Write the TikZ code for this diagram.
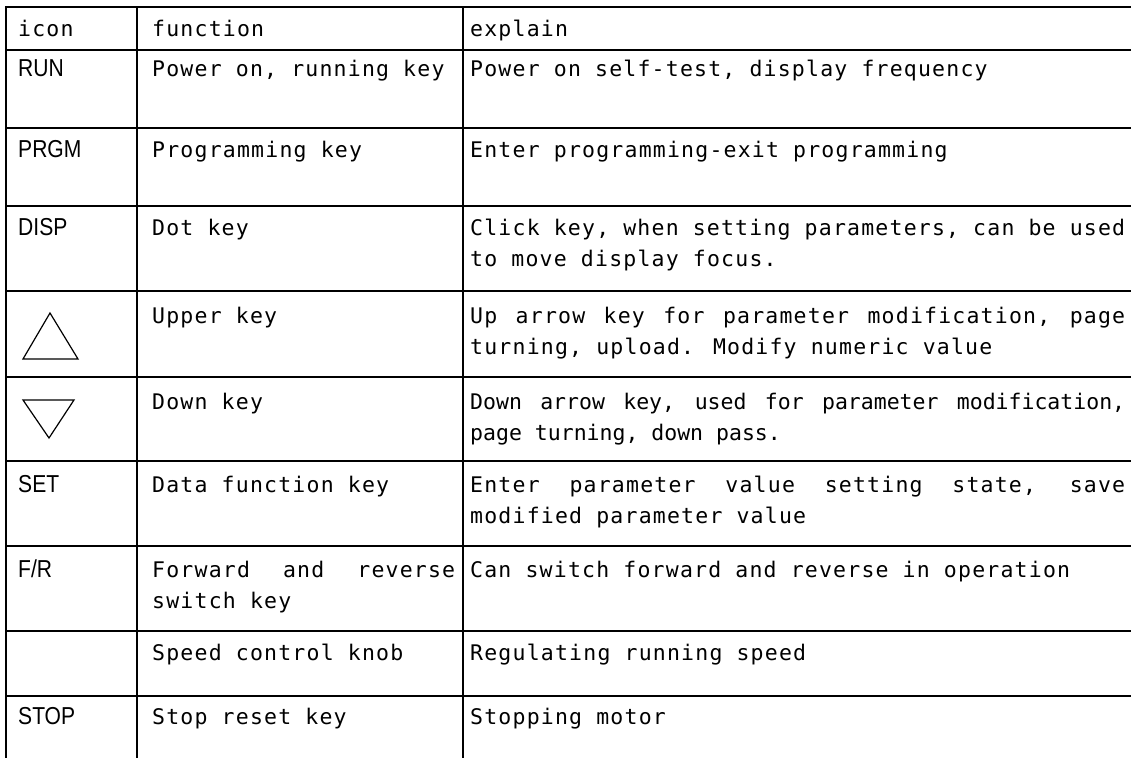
\documentclass[tikz,border=0pt]{standalone}
\usepackage{fontspec}
\newfontfamily\monof[LetterSpace=5.6]{DejaVu Sans Mono}
\newfontfamily\monotight{DejaVu Sans Mono}
\newfontfamily\iconfnt[FakeStretch=0.86]{Liberation Sans}
\newcommand\jline[2]{\makebox[#1pt][s]{#2}}
\begin{document}
\begin{tikzpicture}[x=1pt,y=-1pt,
  grid/.style={line width=1.8pt, line cap=rect},
  txt/.style={anchor=base west, inner sep=0pt, font=\fontsize{21.5}{26}\selectfont\monof},
  ico/.style={anchor=base west, inner sep=0pt, font=\iconfnt\fontsize{24.5}{30}\selectfont},
  tri/.style={line width=1.2pt, line join=miter}]
\useasboundingbox (0,0) rectangle (1131,757);
\begin{scope}
\clip (0,0) rectangle (1131,757);
% vertical lines
\draw[grid] (6,7) -- (6,760);
\draw[grid] (137,7) -- (137,760);
\draw[grid] (463,7) -- (463,760);
% horizontal lines
\foreach \y in {7,50,128,206,291,377,461,546,631,696}
  \draw[grid] (6,\y) -- (1135,\y);
\end{scope}
% header
\node[txt] (h1) at (18,37) {icon};
\node[txt] (h2) at (152,37) {function};
\node[txt] (h3) at (470,37) {explain};
% RUN
\node[ico] (i1) at (18,77) {RUN};
\node[txt] (f1) at (152,77) {Power on, running key};
\node[txt] (e1) at (470,77) {Power on self-test, display frequency};
% PRGM
\node[ico] (i2) at (18,157) {PRGM};
\node[txt] (f2) at (152,157) {Programming key};
\node[txt] (e2) at (470,157) {Enter programming-exit programming};
% DISP
\node[ico] (i3) at (18,235) {DISP};
\node[txt] (f3) at (152,235) {Dot key};
\node[txt] (e3a) at (470,235) {\jline{655}{Click key, when setting parameters, can be used}};
\node[txt] (e3b) at (470,266) {to move display focus.};
% Up
\draw[tri] (50,313) -- (23,359) -- (78,359) -- cycle;
\node[txt] (f4) at (152,323) {Upper key};
\node[txt] (e4a) at (470,323) {\jline{655}{Up arrow key for parameter modification, page}};
\node[txt] (e4b) at (470,354) {turning, upload. Modify numeric value};
% Down
\draw[tri] (23,400) -- (74,400) -- (49,438) -- cycle;
\node[txt] (f5) at (152,409) {Down key};
\node[txt, font=\fontsize{21.5}{26}\selectfont\monotight] (e5a) at (470,409) {\jline{655}{Down arrow key, used for parameter modification,}};
\node[txt, font=\fontsize{21.5}{26}\selectfont\monotight] (e5b) at (470,440) {page turning, down pass.};
% SET
\node[ico] (i6) at (18,492) {SET};
\node[txt] (f6) at (152,492) {Data function key};
\node[txt] (e6a) at (470,492) {\jline{655}{Enter parameter value setting state, save}};
\node[txt] (e6b) at (470,523) {modified parameter value};
% F/R
\node[ico] (i7) at (18,577) {F/R};
\node[txt] (f7a) at (152,577) {\jline{303}{Forward and reverse}};
\node[txt] (f7b) at (152,608) {switch key};
\node[txt] (e7) at (470,577) {Can switch forward and reverse in operation};
% Speed
\node[txt] (f8) at (152,660) {Speed control knob};
\node[txt] (e8) at (470,660) {Regulating running speed};
% STOP
\node[ico] (i9) at (18,724) {STOP};
\node[txt] (f9) at (152,724) {Stop reset key};
\node[txt] (e9) at (470,724) {Stopping motor};
\end{tikzpicture}
\end{document}
